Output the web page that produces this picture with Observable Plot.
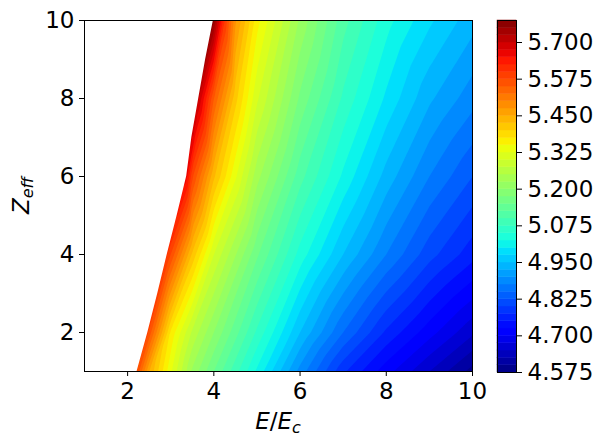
<!DOCTYPE html>
<html><head><meta charset="utf-8">
<script src="https://cdn.jsdelivr.net/npm/d3@7"></script>
<script src="https://cdn.jsdelivr.net/npm/@observablehq/plot@0.6"></script>
<style>
html,body{margin:0;padding:0;background:#fff;}
#fig{position:relative;width:606px;height:446px;font-family:"DejaVu Sans",sans-serif;}
#fig svg{position:absolute;top:0;}
</style></head><body><div id="fig"></div>
<script>
// ---- data ----
const zRows = [1, 2, 4, 6, 8, 10];            // Z_eff rows sampled
const eZ1  = [2.22, 2.5, 3, 3.5, 4, 5, 6, 7, 8, 9, 10];
const vZ1  = [5.57, 5.45, 5.33, 5.22, 5.15, 5.02, 4.89, 4.78, 4.71, 4.65, 4.59];
const eZ2  = [2.47, 3, 3.5, 4, 5, 6, 7, 8, 9, 10];
const vZ2  = [5.58, 5.37, 5.27, 5.2, 5.07, 4.95, 4.85, 4.77, 4.71, 4.655];
const eZ4  = [2.92, 3.5, 4, 5, 6, 7, 8, 9, 10];
const vZ4  = [5.6, 5.42, 5.3, 5.155, 5.04, 4.95, 4.875, 4.81, 4.76];
const eZ6  = [3.37, 3.5, 4, 4.5, 5, 6, 7, 8, 9, 10];
const vZ6  = [5.66, 5.58, 5.43, 5.33, 5.235, 5.11, 5.02, 4.94, 4.875, 4.825];
const eZ8  = [3.65, 4, 4.5, 5, 6, 7, 8, 9, 10];
const vZ8  = [5.7, 5.55, 5.41, 5.305, 5.17, 5.07, 4.995, 4.93, 4.885];
const eZ10 = [3.99, 4.25, 4.5, 5, 6, 7, 8, 9, 10];
const vZ10 = [5.76, 5.6, 5.48, 5.36, 5.22, 5.11, 5.035, 4.98, 4.935];
// edge of the defined region (left of it is blank)
const edgeZ = [1, 2, 3, 4, 5, 6, 7, 8, 9, 10];
const edgeE = [2.22, 2.47, 2.70, 2.92, 3.15, 3.37, 3.49, 3.65, 3.81, 3.99];
// ticks
const xTicks = [2, 4, 6, 8, 10];
const yTicks = [2, 4, 6, 8, 10];
const cbTicks = [4.575, 4.700, 4.825, 4.950, 5.075, 5.200, 5.325, 5.450, 5.575, 5.700];
const levelMin = 4.575, levelStep = 0.025, levelCount = 48;

// ---- build ----
const levels = d3.range(levelCount + 1).map(i => +(levelMin + levelStep * i).toFixed(3));
const rowE = [eZ1, eZ2, eZ4, eZ6, eZ8, eZ10];
const rowV = [vZ1, vZ2, vZ4, vZ6, vZ8, vZ10];
const field = zRows.flatMap((z, r) => rowE[r].map((e, i) => ({e, z, v: rowV[r][i]})));
const edge = edgeZ.map((z, i) => ({z, e: edgeE[i]}));

// matplotlib "jet"
const seg = {
  r: [[0,0],[0.35,0],[0.66,1],[0.89,1],[1,0.5]],
  g: [[0,0],[0.125,0],[0.375,1],[0.64,1],[0.91,0],[1,0]],
  b: [[0,0.5],[0.11,1],[0.34,1],[0.65,0],[1,0]]
};
function segv(s, t) {
  t = Math.max(0, Math.min(1, t));
  for (let i = 1; i < s.length; i++) {
    if (t <= s[i][0]) {
      const [x0, y0] = s[i-1], [x1, y1] = s[i];
      return y0 + (y1 - y0) * (t - x0) / (x1 - x0);
    }
  }
  return s[s.length-1][1];
}
function jet(t) {
  const c = k => Math.round(255 * segv(seg[k], t));
  return `rgb(${c("r")},${c("g")},${c("b")})`;
}
const lo = levels[0] - levelStep / 2, hi = levels[levels.length - 1] - levelStep / 2;
const colorOpts = {type: "linear", domain: [lo, hi], interpolate: jet, clamp: true};
const baseStyle = {fontSize: "23px", fontFamily: "DejaVu Sans", background: "transparent", color: "black", overflow: "visible"};

const main = Plot.plot({
  width: 606, height: 446,
  marginLeft: 84, marginRight: 134, marginTop: 20, marginBottom: 75,
  x: {domain: [1, 10], ticks: xTicks, tickSize: 5, tickPadding: 6, label: null},
  y: {domain: [1, 10], ticks: yTicks, tickSize: 5, tickPadding: 5, label: null},
  color: colorOpts,
  style: baseStyle,
  marks: [
    Plot.contour(field, {x: "e", y: "z", value: "v", fill: "value", thresholds: levels, interpolate: "barycentric", stroke: "none"}),
    Plot.areaX(edge, {y: "z", x1: d => 1, x2: "e", fill: "white"}),
    Plot.frame({stroke: "black", strokeWidth: 1})
  ]
});

const bar = Plot.plot({
  width: 126, height: 446,
  marginLeft: 17, marginRight: 90, marginTop: 20, marginBottom: 74,
  x: {domain: [0, 1], axis: null},
  y: {domain: [levels[0], levels[levels.length-1]], axis: "right", ticks: cbTicks, tickFormat: d => d.toFixed(3), tickSize: 5, tickPadding: 6, label: null},
  color: colorOpts,
  style: baseStyle,
  marks: [
    Plot.rect(levels.slice(0, -1), {x1: d => 0, x2: d => 1, y1: d => d, y2: d => d + levelStep, fill: d => d, stroke: d => d, strokeWidth: 0.5}),
    Plot.frame({stroke: "black", strokeWidth: 1})
  ]
});

const fig = document.getElementById("fig");
fig.appendChild(main);
bar.style.left = "480px";
fig.appendChild(bar);

// axis labels with italic math and subscripts
const svg = d3.select(main);
const xl = svg.append("text").attr("x", 278).attr("y", 429).attr("text-anchor", "middle")
  .attr("font-size", 23).attr("font-family", "DejaVu Sans").attr("fill", "black");
xl.append("tspan").attr("font-style", "italic").text("E");
xl.append("tspan").text("/");
xl.append("tspan").attr("font-style", "italic").text("E");
xl.append("tspan").attr("font-style", "italic").attr("font-size", 16).attr("dy", 4).text("c");
const yl = svg.append("text").attr("transform", "translate(29,195.5) rotate(-90)").attr("text-anchor", "middle")
  .attr("font-size", 23).attr("font-family", "DejaVu Sans").attr("fill", "black");
yl.append("tspan").attr("font-style", "italic").text("Z");
yl.append("tspan").attr("font-style", "italic").attr("font-size", 16).attr("dy", 4).text("eff");
</script></body></html>
